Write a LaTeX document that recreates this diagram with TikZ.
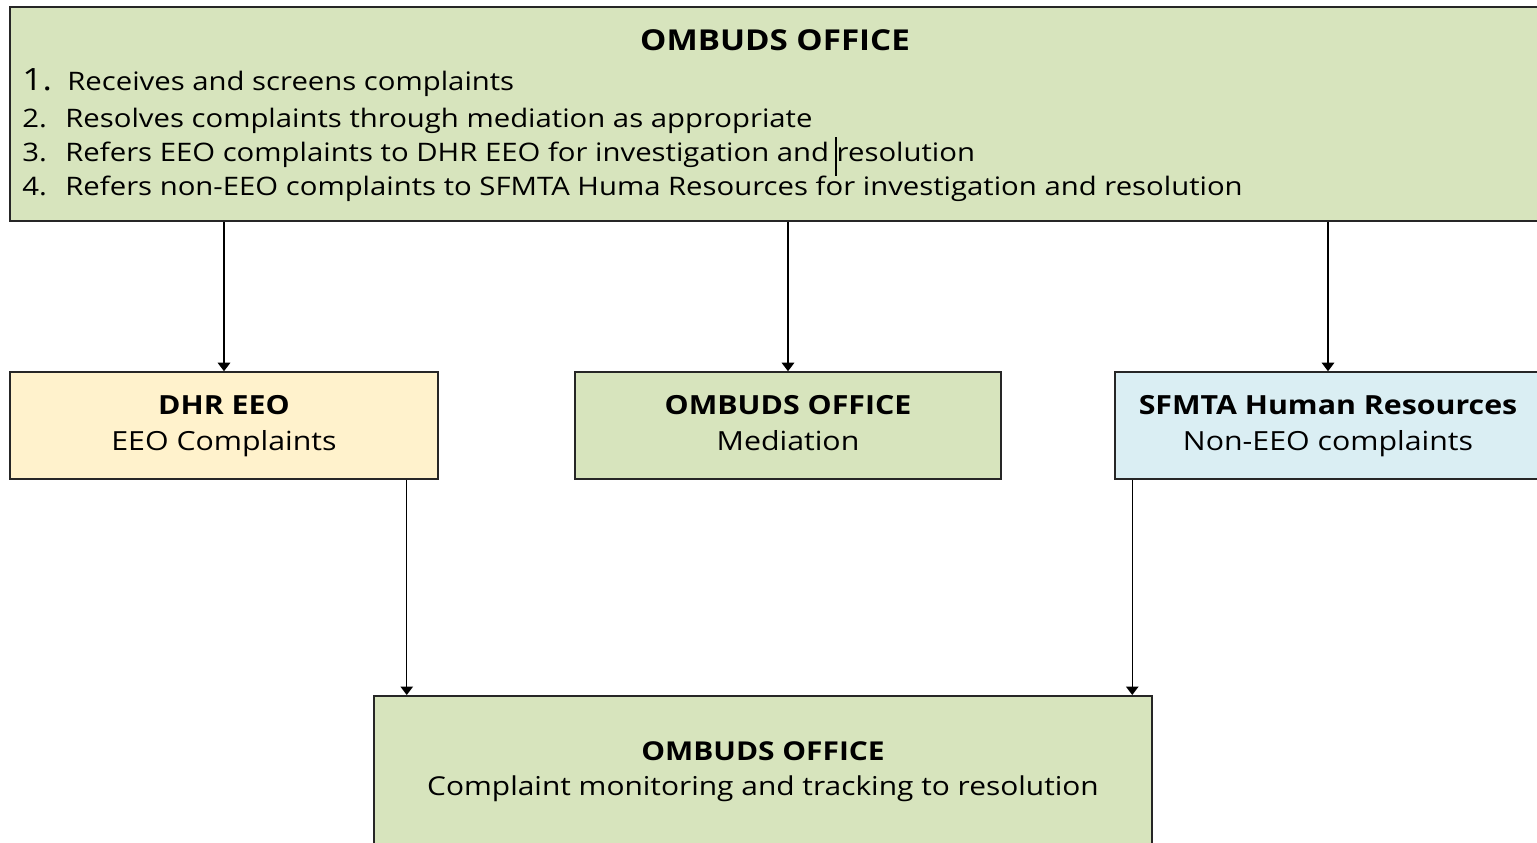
\documentclass[tikz,border=0pt]{standalone}
\usepackage{fontspec}
\setmainfont{Open Sans}[FakeStretch = 1.15]
\usetikzlibrary{arrows.meta,calc}
\definecolor{ombgreen}{HTML}{D7E4BD}
\definecolor{dhryellow}{HTML}{FFF2CC}
\definecolor{hrblue}{HTML}{DAEEF3}

\begin{document}
\begin{tikzpicture}
      [x = 0.02cm, y = -0.02cm,
      box/.style= {
         draw = black!85,
         line width = 0.9pt,
         rectangle,
         inner sep = 0pt,
         align = center,
         minimum height = 2.14cm,
         font = \fontsize{15}{20}\selectfont
      },
      arr/.style={-{Triangle[length=1.7mm, width=2.5mm]}, line width = 0.8pt},
      head/.style={inner sep = 0pt, font = \bfseries\fontsize{16.4}{18}\selectfont},
      item/.style={anchor = base west, inner sep = 0pt, font = \fontsize{14.5}{17}\selectfont}]
      \useasboundingbox (0, 0) rectangle (1537, 842);
      \clip (0, 0) rectangle (1537, 842);

      % top box with the list
      \node[box, fill = ombgreen, minimum width = 30.74cm, minimum height = 4.28cm] (top) at (778.5, 114) {};
      \node[head] (toptitle) at (775, 40) {OMBUDS OFFICE};
      \node[item, font = \fontsize{17.5}{17}\selectfont] (num1) at (22, 90) {1.};
      \node[item] (item1) at (67, 90) {Receives and screens complaints};
      \foreach \n/\yy/\txt in {
            2/127/Resolves complaints through mediation as appropriate,
            3/161/Refers EEO complaints to DHR EEO for investigation and resolution,
            4/195/Refers non-EEO complaints to SFMTA Huma Resources for investigation and resolution}
      {
         \node[item] (num\n) at (22, \yy) {\n.};
         \node[item] (item\n) at (65, \yy) {\txt};
      }
      \draw[line width = 0.6pt] (836, 137) -- (836, 176);

      % second row
      \node[box, fill = dhryellow, minimum width = 8.56cm] (dhr) at (224, 425.5)
         {\textbf{DHR EEO}\strut\\EEO Complaints\strut};
      \node[box, fill = ombgreen, minimum width = 8.52cm] (med) at (788, 425.5)
         {\textbf{OMBUDS OFFICE}\strut\\Mediation\strut};
      \node[box, fill = hrblue, minimum width = 8.52cm] (hr) at (1328, 425.5)
         {\textbf{SFMTA Human Resources}\strut\\Non-EEO complaints\strut};

      % bottom box
      \node[box, fill = ombgreen, anchor = north, minimum width = 15.56cm, minimum height = 3.6cm] (bottom) at (763, 695) {};
      \node[align = center, inner sep = 0pt, font = \fontsize{14.8}{20}\selectfont] (bottomlabel) at (763, 771)
         {\textbf{OMBUDS OFFICE}\strut\\Complaint monitoring and tracking to resolution\strut};

      \coordinate (dhrout) at ($(dhr.south east) + (-32, 0)$);
      \coordinate (hrout) at ($(hr.south west) + (18, 0)$);

      \draw[arr] (top.south -| dhr.north) -- (dhr.north);
      \draw[arr] (top.south -| med.north) -- (med.north);
      \draw[arr] (top.south -| hr.north) -- (hr.north);
      \draw[arr] (dhrout) -- (dhrout |- bottom.north);
      \draw[arr] (hrout) -- (hrout |- bottom.north);
   \end{tikzpicture}
\end{document}
